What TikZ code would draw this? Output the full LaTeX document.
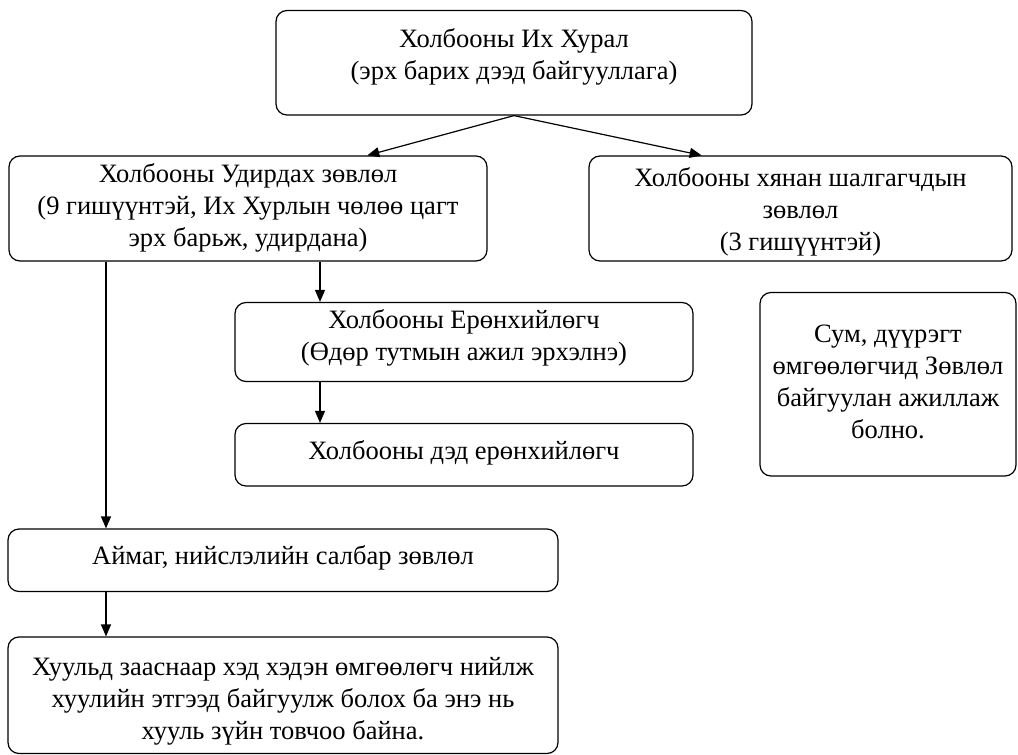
\documentclass[tikz,border=0pt]{standalone}
\usepackage{fontspec}
\setmainfont{Liberation Serif}
\usetikzlibrary{arrows.meta,calc}
\begin{document}
\begin{tikzpicture}[x=1pt,y=-1pt,
  box/.style={draw=black, line width=1.2pt, rounded corners=11pt, inner sep=0pt},
  txt/.style={align=center, inner sep=0pt, font=\fontsize{26.5}{32}\selectfont},
  conn/.style={line width=1.2pt, -{Triangle[length=12pt,width=10pt]}}]
\useasboundingbox (0,0) rectangle (1018,755);
% boxes
\node[box, minimum width=476pt, minimum height=104.5pt] (top) at (514,62.75) {};
\node[box, minimum width=478pt, minimum height=105pt] (udirdah) at (248,208.5) {};
\node[box, minimum width=423pt, minimum height=105pt] (hyanan) at (800.5,208.5) {};
\node[box, minimum width=458pt, minimum height=79pt] (yer) at (464,342) {};
\node[box, minimum width=458pt, minimum height=62.5pt] (ded) at (464,454.75) {};
\node[box, minimum width=256pt, minimum height=183.5pt] (sum) at (888,384.25) {};
\node[box, minimum width=550pt, minimum height=62.5pt] (aimag) at (283,560.25) {};
\node[box, minimum width=550pt, minimum height=116.5pt] (huuli) at (283,695.25) {};
% texts
\node[txt] (topt) at ([yshift=6pt]top.center)
  {Холбооны Их Хурал\\(эрх барих дээд байгууллага)};
\node[txt] (udirdaht) at ([yshift=1pt]udirdah.center)
  {Холбооны Удирдах зөвлөл\\(9 гишүүнтэй, Их Хурлын чөлөө цагт\\эрх барьж, удирдана)};
\node[txt] (hyanant) at ([yshift=-3pt]hyanan.center)
  {Холбооны хянан шалгагчдын\\зөвлөл\\(3 гишүүнтэй)};
\node[txt] (yert) at ([yshift=4pt]yer.center)
  {Холбооны Ерөнхийлөгч\\(Өдөр тутмын ажил эрхэлнэ)};
\node[txt] (dedt) at ([yshift=1.5pt]ded.center) {Холбооны дэд ерөнхийлөгч};
\node[txt] (sumt) at ([yshift=2pt]sum.center)
  {Сум, дүүрэгт\\өмгөөлөгчид Зөвлөл\\байгуулан ажиллаж\\болно.};
\node[txt] (aimagt) at ([yshift=2pt]aimag.center) {Аймаг, нийслэлийн салбар зөвлөл};
\node[txt] (huulit) at ([yshift=-6pt]huuli.center)
  {Хуульд зааснаар хэд хэдэн өмгөөлөгч нийлж\\хуулийн этгээд байгуулж болох ба энэ нь\\хууль зүйн товчоо байна.};
% connectors
\coordinate (xa) at (320,0);
\coordinate (xb) at (106,0);
\draw[conn] (top.south) -- ($(udirdah.north west)!0.749!(udirdah.north east)$);
\draw[conn] (top.south) -- ($(hyanan.north west)!0.267!(hyanan.north east)$);
\draw[conn] (udirdah.south -| xa) -- (yer.north -| xa);
\draw[conn] (yer.south -| xa) -- (ded.north -| xa);
\draw[conn] (udirdah.south -| xb) -- (aimag.north -| xb);
\draw[conn] (aimag.south -| xb) -- (huuli.north -| xb);
\end{tikzpicture}
\end{document}
